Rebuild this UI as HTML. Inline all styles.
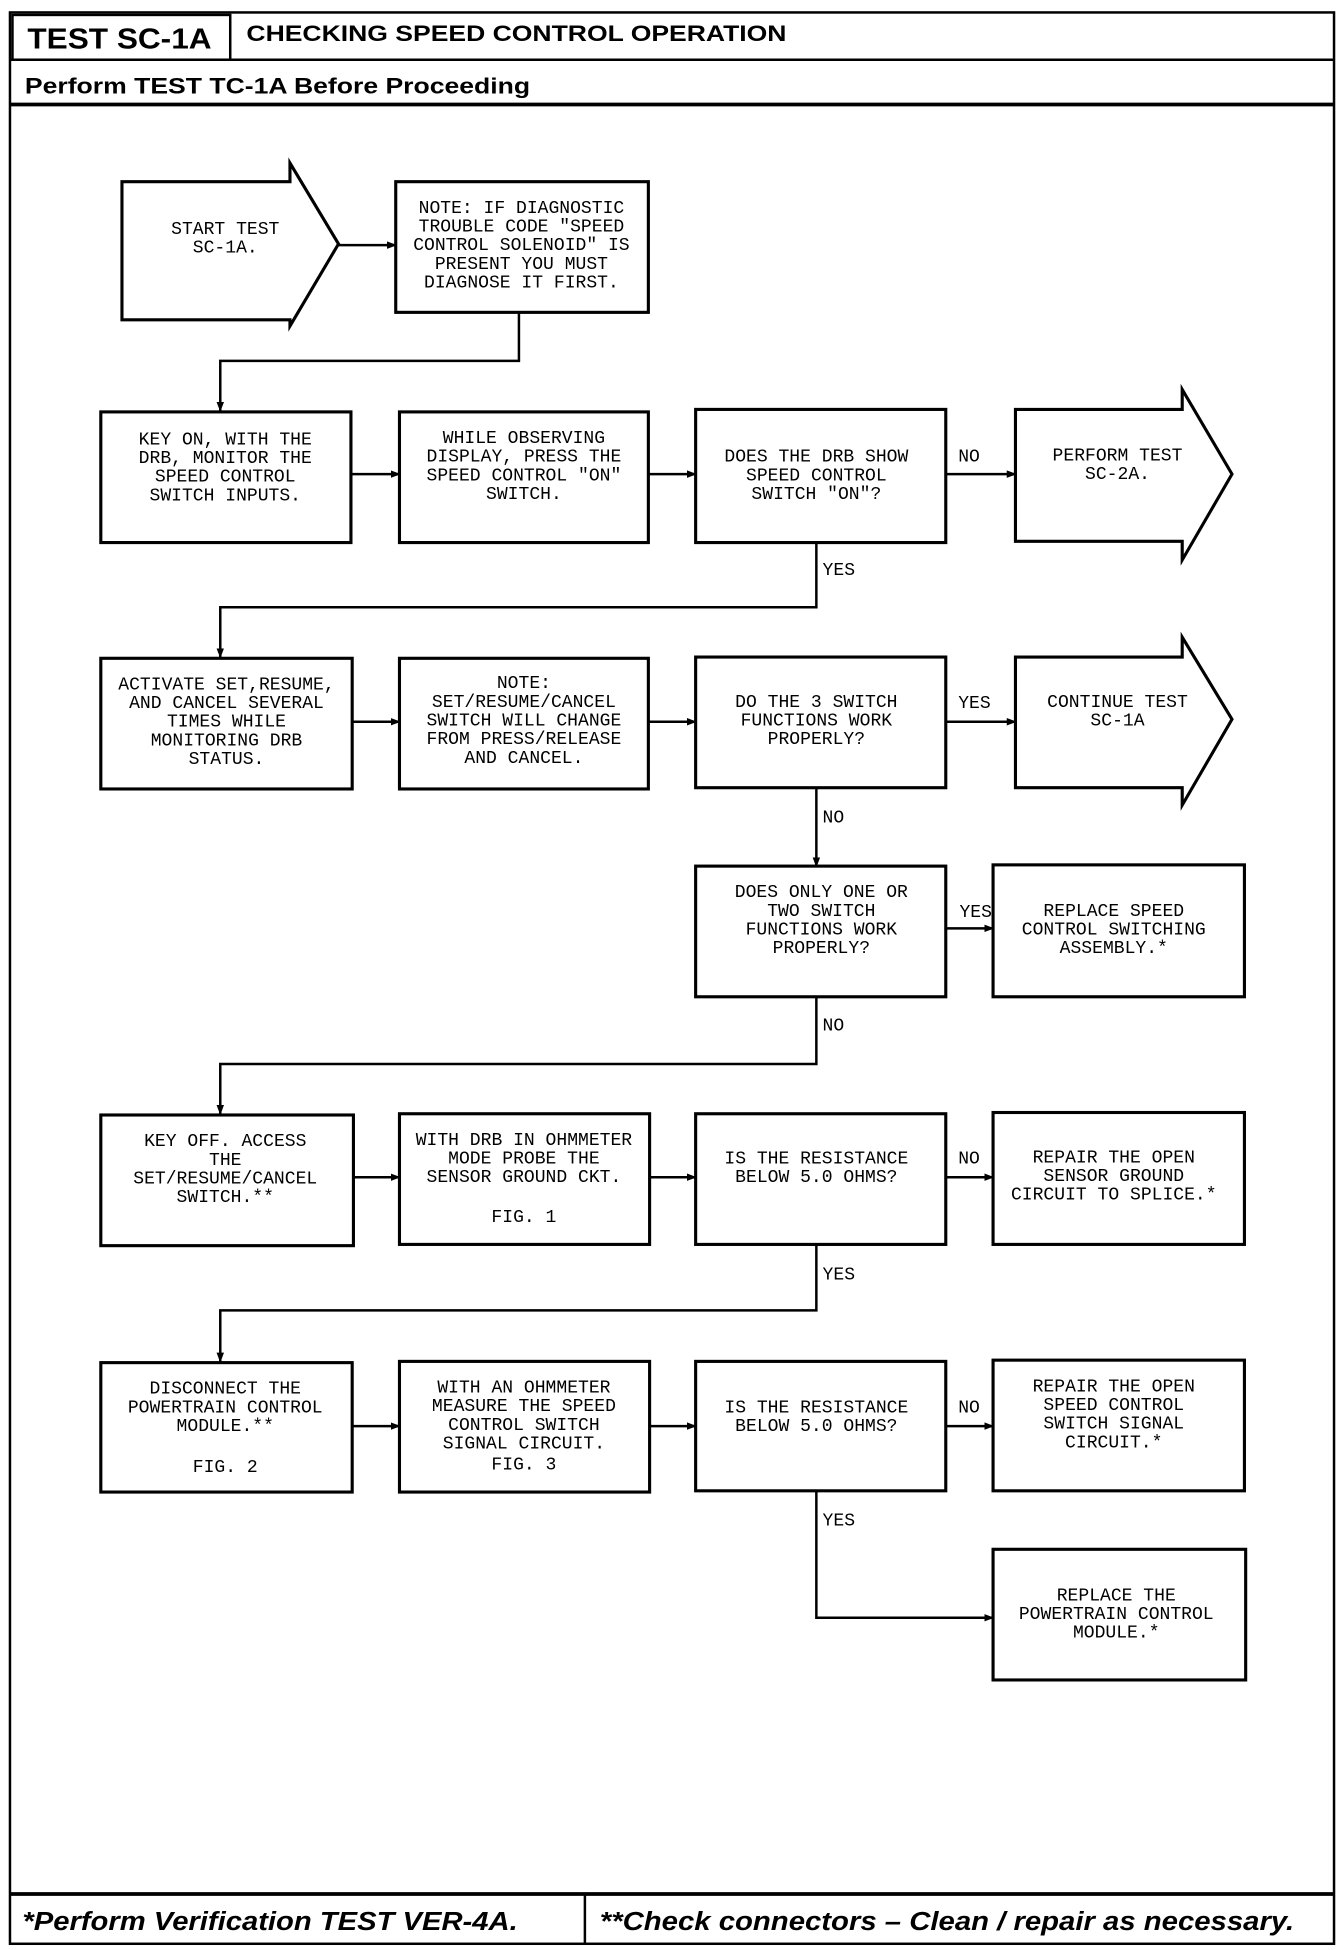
<!DOCTYPE html>
<html><head><meta charset="utf-8"><style>
html,body{margin:0;padding:0;background:#fff;}
svg{display:block}
.t{font-family:"Liberation Mono",monospace;font-size:14.5px;fill:#000;text-anchor:middle}
.l{font-family:"Liberation Mono",monospace;font-size:14.5px;fill:#000}
.b{fill:#fff;stroke:#000;stroke-width:2.5}
.c{fill:none;stroke:#000;stroke-width:2}
.h{font-family:"Liberation Sans",sans-serif;font-weight:bold;fill:#000}
</style></head><body>
<svg width="1344" height="1950" viewBox="0 0 1080 1567" xmlns="http://www.w3.org/2000/svg">
<defs><marker id="a" markerWidth="8" markerHeight="8" refX="7" refY="4" orient="auto" markerUnits="userSpaceOnUse"><path d="M0,1 L8,4 L0,7 z" fill="#000"/></marker></defs>
<rect x="8" y="10" width="1064" height="1552" fill="none" stroke="#000" stroke-width="2"/>
<rect x="10" y="12" width="175" height="36" fill="none" stroke="#000" stroke-width="2"/>
<text class="h" x="22" y="39" font-size="23" textLength="148" lengthAdjust="spacingAndGlyphs">TEST SC-1A</text>
<text class="h" x="198" y="33" font-size="18" textLength="434" lengthAdjust="spacingAndGlyphs">CHECKING SPEED CONTROL OPERATION</text>
<line x1="8" y1="48" x2="1072" y2="48" stroke="#000" stroke-width="2"/>
<text class="h" x="20" y="75" font-size="18" textLength="406" lengthAdjust="spacingAndGlyphs">Perform TEST TC-1A Before Proceeding</text>
<line x1="8" y1="84" x2="1072" y2="84" stroke="#000" stroke-width="3"/>
<line x1="8" y1="1522" x2="1072" y2="1522" stroke="#000" stroke-width="3"/>
<line x1="470" y1="1522" x2="470" y2="1562" stroke="#000" stroke-width="2"/>
<text class="h" x="18" y="1551" font-size="21" font-style="italic" textLength="398" lengthAdjust="spacingAndGlyphs">*Perform Verification TEST VER-4A.</text>
<text class="h" x="482" y="1551" font-size="21" font-style="italic" textLength="558" lengthAdjust="spacingAndGlyphs">**Check connectors – Clean / repair as necessary.</text>

<!-- start arrow -->
<path class="b" d="M98,146 H233 V131 L272,196 L233,262 V257 H98 Z"/>
<text class="t" x="181" y="188">START TEST</text><text class="t" x="181" y="203">SC-1A.</text>
<rect class="b" x="318" y="146" width="203" height="105"/>
<text class="t" x="419" y="171">NOTE: IF DIAGNOSTIC</text><text class="t" x="419" y="186">TROUBLE CODE "SPEED</text><text class="t" x="419" y="201">CONTROL SOLENOID" IS</text><text class="t" x="419" y="216">PRESENT YOU MUST</text><text class="t" x="419" y="231">DIAGNOSE IT FIRST.</text>
<line class="c" x1="272" y1="197" x2="318" y2="197" marker-end="url(#a)"/>
<path class="c" d="M417,251 V290 H177 V330" marker-end="url(#a)"/>

<!-- row 2 -->
<rect class="b" x="81" y="331" width="201" height="105"/>
<text class="t" x="181" y="357">KEY ON, WITH THE</text><text class="t" x="181" y="372">DRB, MONITOR THE</text><text class="t" x="181" y="387">SPEED CONTROL</text><text class="t" x="181" y="402">SWITCH INPUTS.</text>
<rect class="b" x="321" y="331" width="200" height="105"/>
<text class="t" x="421" y="356">WHILE OBSERVING</text><text class="t" x="421" y="371">DISPLAY, PRESS THE</text><text class="t" x="421" y="386">SPEED CONTROL "ON"</text><text class="t" x="421" y="401">SWITCH.</text>
<rect class="b" x="559" y="329" width="201" height="107"/>
<text class="t" x="656" y="371">DOES THE DRB SHOW</text><text class="t" x="656" y="386">SPEED CONTROL</text><text class="t" x="656" y="401">SWITCH "ON"?</text>
<path class="b" d="M816,329 H950 V313 L990,381 L950,450 V435 H816 Z"/>
<text class="t" x="898" y="370">PERFORM TEST</text><text class="t" x="898" y="385">SC-2A.</text>
<line class="c" x1="282" y1="381" x2="321" y2="381" marker-end="url(#a)"/>
<line class="c" x1="521" y1="381" x2="559" y2="381" marker-end="url(#a)"/>
<line class="c" x1="760" y1="381" x2="816" y2="381" stroke-width="3" marker-end="url(#a)"/>
<text class="l" x="770" y="371">NO</text>
<path class="c" d="M656,436 V488 H177 V528" marker-end="url(#a)"/>
<text class="l" x="661" y="462">YES</text>

<!-- row 3 -->
<rect class="b" x="81" y="529" width="202" height="105"/>
<text class="t" x="182" y="554">ACTIVATE SET,RESUME,</text><text class="t" x="182" y="569">AND CANCEL SEVERAL</text><text class="t" x="182" y="584">TIMES WHILE</text><text class="t" x="182" y="599">MONITORING DRB</text><text class="t" x="182" y="614">STATUS.</text>
<rect class="b" x="321" y="529" width="200" height="105"/>
<text class="t" x="421" y="553">NOTE:</text><text class="t" x="421" y="568">SET/RESUME/CANCEL</text><text class="t" x="421" y="583">SWITCH WILL CHANGE</text><text class="t" x="421" y="598">FROM PRESS/RELEASE</text><text class="t" x="421" y="613">AND CANCEL.</text>
<rect class="b" x="559" y="528" width="201" height="105"/>
<text class="t" x="656" y="568">DO THE 3 SWITCH</text><text class="t" x="656" y="583">FUNCTIONS WORK</text><text class="t" x="656" y="598">PROPERLY?</text>
<path class="b" d="M816,528 H950 V512 L990,578 L950,647 V633 H816 Z"/>
<text class="t" x="898" y="568">CONTINUE TEST</text><text class="t" x="898" y="583">SC-1A</text>
<line class="c" x1="283" y1="580" x2="321" y2="580" marker-end="url(#a)"/>
<line class="c" x1="521" y1="580" x2="559" y2="580" marker-end="url(#a)"/>
<line class="c" x1="760" y1="580" x2="816" y2="580" stroke-width="3" marker-end="url(#a)"/>
<text class="l" x="770" y="569">YES</text>
<line class="c" x1="656" y1="633" x2="656" y2="696" marker-end="url(#a)"/>
<text class="l" x="661" y="661">NO</text>

<!-- row 4 -->
<rect class="b" x="559" y="696" width="201" height="105"/>
<text class="t" x="660" y="721">DOES ONLY ONE OR</text><text class="t" x="660" y="736">TWO SWITCH</text><text class="t" x="660" y="751">FUNCTIONS WORK</text><text class="t" x="660" y="766">PROPERLY?</text>
<rect class="b" x="798" y="695" width="202" height="106"/>
<text class="t" x="895" y="736">REPLACE SPEED</text><text class="t" x="895" y="751">CONTROL SWITCHING</text><text class="t" x="895" y="766">ASSEMBLY.*</text>
<line class="c" x1="760" y1="746" x2="798" y2="746" marker-end="url(#a)"/>
<text class="l" x="771" y="737">YES</text>
<path class="c" d="M656,801 V855 H177 V895" marker-end="url(#a)"/>
<text class="l" x="661" y="828">NO</text>

<!-- row 5 -->
<rect class="b" x="81" y="896" width="203" height="105"/>
<text class="t" x="181" y="921">KEY OFF. ACCESS</text><text class="t" x="181" y="936">THE</text><text class="t" x="181" y="951">SET/RESUME/CANCEL</text><text class="t" x="181" y="966">SWITCH.**</text>
<rect class="b" x="321" y="895" width="201" height="105"/>
<text class="t" x="421" y="920">WITH DRB IN OHMMETER</text><text class="t" x="421" y="935">MODE PROBE THE</text><text class="t" x="421" y="950">SENSOR GROUND CKT.</text><text class="t" x="421" y="982">FIG. 1</text>
<rect class="b" x="559" y="895" width="201" height="105"/>
<text class="t" x="656" y="935">IS THE RESISTANCE</text><text class="t" x="656" y="950">BELOW 5.0 OHMS?</text>
<rect class="b" x="798" y="894" width="202" height="106"/>
<text class="t" x="895" y="934">REPAIR THE OPEN</text><text class="t" x="895" y="949">SENSOR GROUND</text><text class="t" x="895" y="964">CIRCUIT TO SPLICE.*</text>
<line class="c" x1="284" y1="946" x2="321" y2="946" marker-end="url(#a)"/>
<line class="c" x1="522" y1="946" x2="559" y2="946" marker-end="url(#a)"/>
<line class="c" x1="760" y1="946" x2="798" y2="946" marker-end="url(#a)"/>
<text class="l" x="770" y="935">NO</text>
<path class="c" d="M656,1000 V1053 H177 V1094" marker-end="url(#a)"/>
<text class="l" x="661" y="1028">YES</text>

<!-- row 6 -->
<rect class="b" x="81" y="1095" width="202" height="104"/>
<text class="t" x="181" y="1120">DISCONNECT THE</text><text class="t" x="181" y="1135">POWERTRAIN CONTROL</text><text class="t" x="181" y="1150">MODULE.**</text><text class="t" x="181" y="1183">FIG. 2</text>
<rect class="b" x="321" y="1094" width="201" height="105"/>
<text class="t" x="421" y="1119">WITH AN OHMMETER</text><text class="t" x="421" y="1134">MEASURE THE SPEED</text><text class="t" x="421" y="1149">CONTROL SWITCH</text><text class="t" x="421" y="1164">SIGNAL CIRCUIT.</text><text class="t" x="421" y="1181">FIG. 3</text>
<rect class="b" x="559" y="1094" width="201" height="104"/>
<text class="t" x="656" y="1135">IS THE RESISTANCE</text><text class="t" x="656" y="1150">BELOW 5.0 OHMS?</text>
<rect class="b" x="798" y="1093" width="202" height="105"/>
<text class="t" x="895" y="1118">REPAIR THE OPEN</text><text class="t" x="895" y="1133">SPEED CONTROL</text><text class="t" x="895" y="1148">SWITCH SIGNAL</text><text class="t" x="895" y="1163">CIRCUIT.*</text>
<line class="c" x1="283" y1="1146" x2="321" y2="1146" marker-end="url(#a)"/>
<line class="c" x1="522" y1="1146" x2="559" y2="1146" marker-end="url(#a)"/>
<line class="c" x1="760" y1="1146" x2="798" y2="1146" marker-end="url(#a)"/>
<text class="l" x="770" y="1135">NO</text>
<path class="c" d="M656,1198 V1300 H798" marker-end="url(#a)"/>
<text class="l" x="661" y="1226">YES</text>
<rect class="b" x="798" y="1245" width="203" height="105"/>
<text class="t" x="897" y="1286">REPLACE THE</text><text class="t" x="897" y="1301">POWERTRAIN CONTROL</text><text class="t" x="897" y="1316">MODULE.*</text>
</svg>
</body></html>
